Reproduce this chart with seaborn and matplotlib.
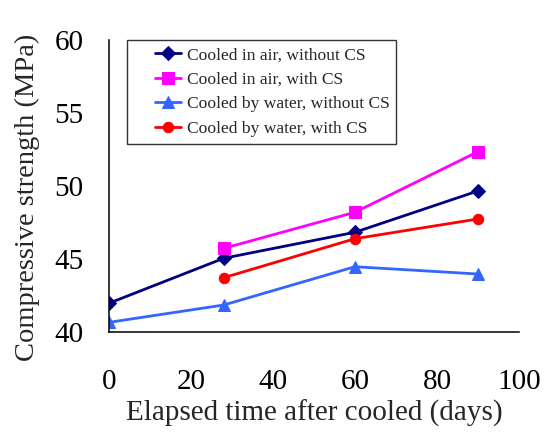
import matplotlib
matplotlib.use("Agg")
import matplotlib.pyplot as plt
from matplotlib.lines import Line2D
from matplotlib.legend_handler import HandlerLine2D
import seaborn as sns
import pandas as pd

# Compressive strength vs. elapsed time after cooling
days_air_plain = [0, 28, 60, 90]
air_plain = [41.97, 45.05, 46.83, 49.66]

days_air_cs = [28, 60, 90]
air_cs = [45.73, 48.20, 52.35]

days_water_plain = [0, 28, 60, 90]
water_plain = [40.66, 41.85, 44.47, 43.97]

days_water_cs = [28, 60, 90]
water_cs = [43.72, 46.39, 47.74]

labels = ["Cooled in air, without CS", "Cooled in air, with CS",
          "Cooled by water, without CS", "Cooled by water, with CS"]
x_ticks = [0, 20, 40, 60, 80, 100]
y_ticks = [40, 45, 50, 55, 60]

sns.set_theme(style="white")
plt.rcParams["font.family"] = ["Liberation Serif", "DejaVu Serif"]

fig = plt.figure(figsize=(5.46, 4.32), dpi=100)
ax = fig.add_axes([0.1996, 0.2315, 0.7509, 0.676])

series = [
    (days_air_plain, air_plain, labels[0], "#000080", "D", 7),
    (days_air_cs, air_cs, labels[1], "#FF00FF", "s", 8),
    (days_water_plain, water_plain, labels[2], "#3366FF", "^", 8),
    (days_water_cs, water_cs, labels[3], "#FF0000", "o", 7.5),
]
for xs, ys, lab, col, mk, ms in series:
    df = pd.DataFrame({"days": xs, "strength": ys})
    sns.lineplot(data=df, x="days", y="strength", ax=ax, color=col,
                 marker=mk, markersize=ms, markeredgecolor=col,
                 linewidth=2, label=lab)

ax.set_xlim(0, 100)
ax.set_ylim(40, 60)
ax.set_xticks(x_ticks)
ax.set_yticks(y_ticks)
ax.tick_params(axis="both", direction="in", length=6.5, width=1,
               labelsize=21, colors="black")
ax.tick_params(axis="x", pad=27)
ax.tick_params(axis="y", pad=18.5)
for s in ["top", "right"]:
    ax.spines[s].set_visible(False)
for s in ["left", "bottom"]:
    ax.spines[s].set_color("black")
    ax.spines[s].set_linewidth(1.1)

ax.set_xlabel("Elapsed time after cooled (days)", fontsize=21)
ax.set_ylabel("Compressive strength (MPa)", fontsize=20.5)
ax.xaxis.set_label_coords(0.5, -0.232)
ax.yaxis.set_label_coords(-0.168, 0.462)

handles, _ = ax.get_legend_handles_labels()
leg = ax.legend(handles, labels, loc="upper left",
                bbox_to_anchor=(0.044, 1.0),
                fontsize=12.6, frameon=True, fancybox=False,
                handlelength=2.7, handletextpad=0.3,
                borderpad=0.4, labelspacing=0.47, borderaxespad=0,
                handler_map={Line2D: HandlerLine2D(xpad=1.2)})
leg.get_frame().set_edgecolor("black")
leg.get_frame().set_linewidth(1.0)

fig.savefig("out.png", dpi=100)
